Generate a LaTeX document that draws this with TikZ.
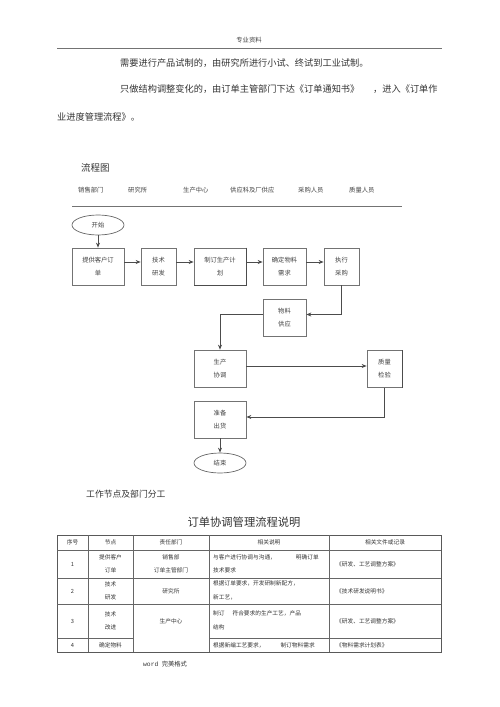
\documentclass[tikz,border=0pt]{standalone}
\usepackage{fontspec}
\setmainfont{Liberation Serif}
\setmonofont{Liberation Mono}
\newfontfamily\cjk{Noto Sans CJK SC}
\usetikzlibrary{arrows.meta,shapes.geometric}
\begin{document}
\begin{tikzpicture}[x=1pt,y=-1pt,
  body/.style={font=\cjk\fontsize{9.2}{11}\selectfont, text=black!80, inner sep=0pt, anchor=west},
  small/.style={font=\cjk\fontsize{6.3}{13}\selectfont, text=black!75, inner sep=0pt},
  tab/.style={font=\cjk\fontsize{5.7}{13.5}\selectfont, text=black!80, inner sep=0pt},
  box/.style={draw=black!55, line width=0.7pt, small, align=center, minimum width=#1, minimum height=37},
  oval/.style={draw=black!60, line width=0.7pt, ellipse, small, minimum width=52, minimum height=20},
  arr/.style={draw=black!70, line width=0.8pt, -{Stealth[length=5pt,width=4pt]}},
  rule/.style={draw=black!55, line width=0.8pt},
  tline/.style={draw=black!60, line width=0.6pt}
]
\useasboundingbox (0,0) rectangle (500,707);
% header
\node[small, font=\cjk\fontsize{6.3}{8}\selectfont] (hdr) at (249,40) {专业资料};
\draw[rule] (57,48) -- (442,48);
\node[body] (p1) at (120,63) {需要进行产品试制的，由研究所进行小试、终试到工业试制。};
\node[body] (p2) at (120,89) {只做结构调整变化的，由订单主管部门下达《订单通知书》};
\node[body] (p2b) at (373,89) {，进入《订单作};
\node[body] (p3) at (57,117) {业进度管理流程》。};
% flowchart title and lanes
\node[body, font=\cjk\fontsize{9.5}{11}\selectfont] (flt) at (81,168) {流程图};
\node[small, anchor=west] (l1) at (78,190) {销售部门};
\node[small, anchor=west] (l2) at (128,190) {研究所};
\node[small, anchor=west] (l3) at (183,190) {生产中心};
\node[small, anchor=west] (l4) at (230,190) {供应科及厂供应};
\node[small, anchor=west] (l5) at (298,190) {采购人员};
\node[small, anchor=west] (l6) at (349,190) {质量人员};
\draw[rule] (72,206) -- (402,206);
% nodes
\node[oval] (st) at (98,225) {开始};
\node[box=52] (n1) at (98,266.5) {提供客户订\\单};
\node[box=35] (n2) at (158.5,266.5) {技术\\研发};
\node[box=52] (n3) at (220,266.5) {制订生产计\\划};
\draw[draw=black!70, line width=1.2pt] (n3.north east) -- (n3.south east) -- (n3.south west);
\node[box=43] (n4) at (284.5,266.5) {确定物料\\需求};
\node[box=35] (n5) at (341.5,266.5) {执行\\采购};
\node[box=43] (n6) at (284.5,317.5) {物料\\供应};
\node[box=52] (n7) at (220,368.5) {生产\\协调};
\node[box=35] (n8) at (384.5,369) {质量\\检验};
\draw[draw=black!70, line width=1.1pt] (n8.north east) -- (n8.south east);
\node[box=52] (n9) at (220,419.5) {准备\\出货};
\node[oval] (en) at (220,463) {结束};
% connectors
\draw[arr] (st.south) -- (n1.north);
\draw[arr] ([yshift=4.5pt]n1.east) -- ([yshift=4.5pt]n2.west);
\draw[arr] ([yshift=4.5pt]n2.east) -- ([yshift=4.5pt]n3.west);
\draw[arr] ([yshift=4.5pt]n3.east) -- ([yshift=4.5pt]n4.west);
\draw[arr] ([yshift=4.5pt]n4.east) -- ([yshift=4.5pt]n5.west);
\draw[arr] (n5.south) |- ([yshift=3pt]n6.east);
\draw[arr] ([yshift=3pt]n6.west) -| (n7.north);
\draw[arr] ([yshift=2.5pt]n7.east) -- ([yshift=3pt]n8.west);
\draw[arr] (n8.south) |- ([yshift=2.5pt]n9.east);
\draw[arr] (n9.south) -- (en.north);
% section titles
\node[body, font=\cjk\fontsize{8.8}{11}\selectfont] (sec) at (86,494) {工作节点及部门分工};
\node[body, anchor=center, font=\cjk\fontsize{11.3}{13}\selectfont] (ttl) at (244,522) {订单协调管理流程说明};
% table
\draw[draw=black!65, line width=0.9pt] (57,535) rectangle (441,652);
\foreach \x in {88,133,209,329} \draw[tline] (\x,535) -- (\x,652);
\draw[tline] (57,550) -- (441,550);
\draw[tline] (57,578) -- (441,578);
\draw[tline] (57,604) -- (441,604);
\draw[tline] (57,638) -- (133,638);
\draw[tline] (209,638) -- (441,638);
% header row
\node[tab] (h1) at (72.5,542.5) {序号};
\node[tab] (h2) at (110.5,542.5) {节点};
\node[tab] (h3) at (171,542.5) {责任部门};
\node[tab] (h4) at (269,542.5) {相关说明};
\node[tab] (h5) at (385,542.5) {相关文件或记录};
% row 1
\node[tab] (r1a) at (72.5,564) {1};
\node[tab, align=center] (r1b) at (110.5,564) {提供客户\\订单};
\node[tab, align=center] (r1c) at (171,564) {销售部\\订单主管部门};
\node[tab, align=left, anchor=west] (r1d) at (213,564) {与客户进行协调与沟通，\hspace{20pt}明确订单\\技术要求};
\node[tab, anchor=west] (r1e) at (336,564) {《研发、工艺调整方案》};
% row 2
\node[tab] (r2a) at (72.5,591) {2};
\node[tab, align=center] (r2b) at (110.5,591) {技术\\研发};
\node[tab] (r2c) at (171,591) {研究所};
\node[tab, align=left, anchor=west] (r2d) at (213,590.5) {根据订单要求，开发研制新配方，\\新工艺，};
\node[tab, anchor=west] (r2e) at (336,591) {《技术研发说明书》};
% row 3
\node[tab] (r3a) at (72.5,621) {3};
\node[tab, align=center] (r3b) at (110.5,621) {技术\\改进};
\node[tab] (r3c) at (171,621) {生产中心};
\node[tab, align=left, anchor=west] (r3d) at (213,620.5) {制订\hspace{8pt}符合要求的生产工艺，产品\\结构};
\node[tab, anchor=west] (r3e) at (336,621) {《研发、工艺调整方案》};
% row 4
\node[tab] (r4a) at (72.5,645.5) {4};
\node[tab] (r4b) at (110.5,645.5) {确定物料};
\node[tab, anchor=west] (r4d) at (213,645.5) {根据新编工艺要求，\hspace{16pt}制订物料需求};
\node[tab, anchor=west] (r4e) at (336,645.5) {《物料需求计划表》};
% footer
\node[tab, anchor=west, font=\cjk\fontsize{6.3}{8}\selectfont] (ft) at (143,664) {{\ttfamily word}\hspace{3.5pt}完美格式};
\end{tikzpicture}
\end{document}
